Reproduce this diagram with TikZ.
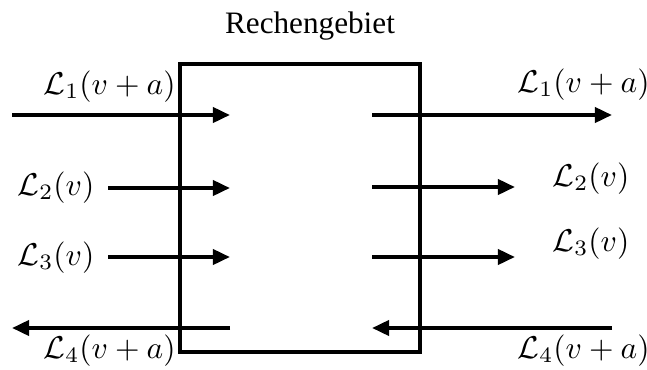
\documentclass[tikz,border=0pt]{standalone}
\usepackage{fontspec}
\newfontfamily\titlefont{Liberation Serif}
\usetikzlibrary{arrows.meta}
\begin{document}
\begin{tikzpicture}[x=0.3333pt, y=-0.3333pt,
  flow/.style={line width=1.3pt, -{Triangle[length=5.7pt,width=5pt]}},
  lab/.style={inner sep=0pt, anchor=base west, scale=1.05},
  boxline/.style={line width=1.2pt}]
\useasboundingbox (0,0) rectangle (647,370);
\node[inner sep=0pt, anchor=base, scale=1.04] (title) at (310,33) {\titlefont Rechengebiet};
\draw[boxline] (180,64) rectangle (420,352);
\node (box) at (300,208) {};
% coordinates
\coordinate (l1s) at (12,115);  \coordinate (l1e) at (230,115);
\coordinate (l2s) at (108,188); \coordinate (l2e) at (230,188);
\coordinate (l3s) at (108,257); \coordinate (l3e) at (230,257);
\coordinate (l4s) at (230,328); \coordinate (l4e) at (12,328);
\coordinate (r1s) at (372,115); \coordinate (r1e) at (612,115);
\coordinate (r2s) at (372,187); \coordinate (r2e) at (515,187);
\coordinate (r3s) at (372,257); \coordinate (r3e) at (515,257);
\coordinate (r4s) at (612,328); \coordinate (r4e) at (372,328);
\draw[flow] (l1s) -- (l1e);
\draw[flow] (l2s) -- (l2e);
\draw[flow] (l3s) -- (l3e);
\draw[flow] (l4s) -- (l4e);
\draw[flow] (r1s) -- (r1e);
\draw[flow] (r2s) -- (r2e);
\draw[flow] (r3s) -- (r3e);
\draw[flow] (r4s) -- (r4e);
% labels
\node[lab] (tl1) at (43,94) {$\mathcal{L}_1(v+a)$};
\node[lab] (tl2) at (17,195) {$\mathcal{L}_2(v)$};
\node[lab] (tl3) at (17,265) {$\mathcal{L}_3(v)$};
\node[lab] (tl4) at (43,358) {$\mathcal{L}_4(v+a)$};
\node[lab] (tr1) at (517,92) {$\mathcal{L}_1(v+a)$};
\node[lab] (tr2) at (552,186) {$\mathcal{L}_2(v)$};
\node[lab] (tr3) at (552,251) {$\mathcal{L}_3(v)$};
\node[lab] (tr4) at (517,358) {$\mathcal{L}_4(v+a)$};
\end{tikzpicture}
\end{document}
